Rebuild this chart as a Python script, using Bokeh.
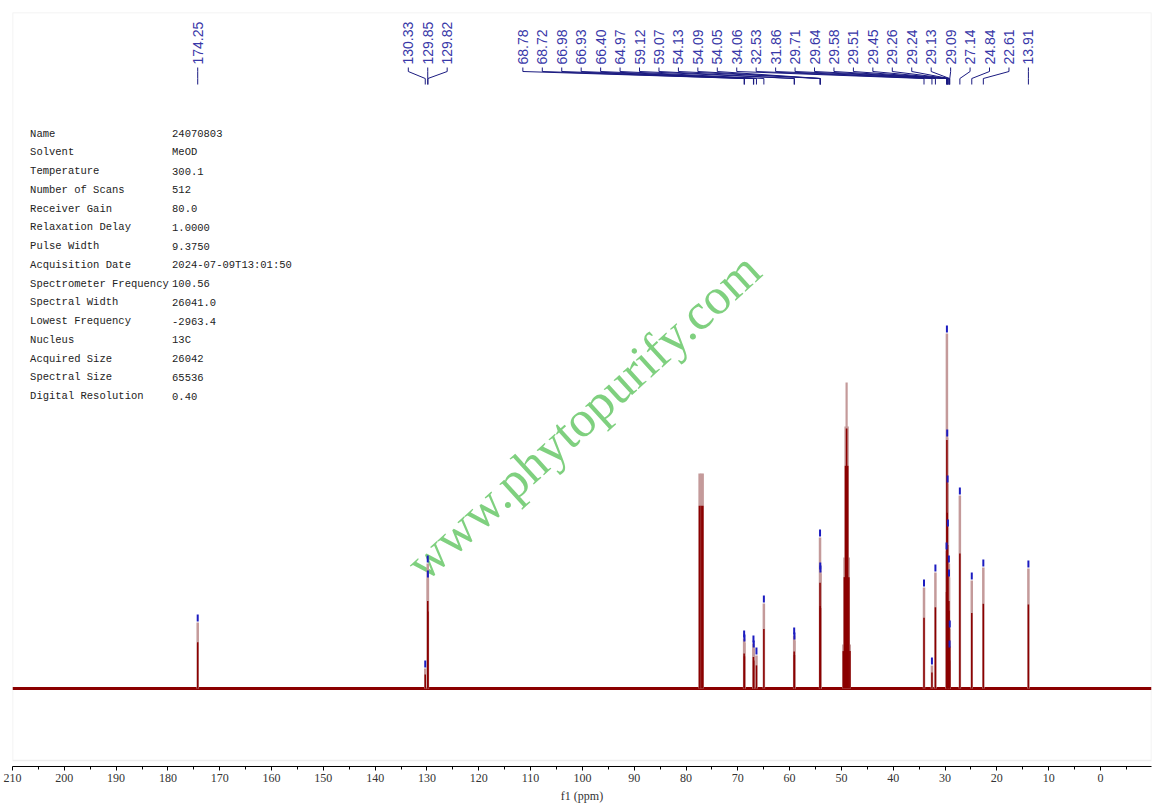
import math
from bokeh.plotting import figure
from bokeh.models import Range1d, FixedTicker, BoxAnnotation
from bokeh.core.properties import value
from bokeh.embed import file_html
from bokeh.resources import INLINE

# ---------------- data ----------------
# labelled peaks (ppm, intensity)
peak_ppm = [174.25, 130.33, 129.85, 129.82, 68.78, 68.72, 66.98, 66.93, 66.40, 64.97,
            59.12, 59.07, 54.13, 54.09, 54.05, 34.06, 32.53, 31.86, 29.71, 29.64,
            29.58, 29.51, 29.45, 29.26, 29.24, 29.13, 29.09, 27.14, 24.84, 22.61, 13.91]
peak_int = [66, 20, 125, 110, 50, 46, 45, 40, 33, 85,
            53, 48, 151, 118, 115, 101, 23, 116, 138, 355,
            251, 205, 161, 125, 111, 40, 60, 193, 108, 121, 120]
# solvent peaks (CDCl3 triplet, CD3OD septet) - not labelled
solv_ppm = [77.40, 77.08, 76.76, 49.64, 49.43, 49.21, 49.00, 48.79, 48.57, 48.36]
solv_int = [215, 215, 215, 44, 131, 262, 306, 262, 131, 44]

# label groups (indices into peak_ppm)
label_groups = [[0], [1, 2, 3], list(range(4, 31))]

major_ticks = [210, 200, 190, 180, 170, 160, 150, 140, 130, 120, 110, 100,
               90, 80, 70, 60, 50, 40, 30, 20, 10, 0]
minor_ticks = [205, 195, 185, 175, 165, 155, 145, 135, 125, 115, 105, 95,
               85, 75, 65, 55, 45, 35, 25, 15, 5, -5]

param_names = ["Name", "Solvent", "Temperature", "Number of Scans", "Receiver Gain",
               "Relaxation Delay", "Pulse Width", "Acquisition Date",
               "Spectrometer Frequency", "Spectral Width", "Lowest Frequency",
               "Nucleus", "Acquired Size", "Spectral Size", "Digital Resolution"]
param_values = ["24070803", "MeOD", "300.1", "512", "80.0", "1.0000", "9.3750",
                "2024-07-09T13:01:50", "100.56", "26041.0", "-2963.4", "13C",
                "26042", "65536", "0.40"]

watermark = "www.phytopurify.com"

# ---------------- figure ----------------
X0, X1 = 210.0, -9.85
Y0, Y1 = -78, 676
PX_PER_PPM = 5.185

p = figure(width=1159, height=808, output_backend="svg", toolbar_location=None,
           x_range=Range1d(X0, X1), y_range=Range1d(Y0, Y1),
           y_axis_location=None, min_border_left=12, min_border_right=8,
           min_border_top=12, min_border_bottom=42)
p.outline_line_color = None
p.grid.visible = False
p.background_fill_color = "white"
p.border_fill_color = "white"

# gray spectrum box
p.add_layout(BoxAnnotation(bottom=-72, fill_alpha=0, line_color="#c8c8c8",
                           line_width=1.5, level="underlay"))

# watermark
p.text(x=[132.5], y=[118], text=[watermark], angle=math.radians(42.3),
       text_font=value("Liberation Serif"), text_font_size="51px",
       text_color="#7fd07f", text_align="left", text_baseline="alphabetic")

# baseline
p.line(x=[X0, X1], y=[0, 0], line_color="#8b0000", line_width=3)

# solvent peaks
p.segment(x0=solv_ppm, y0=[0] * len(solv_ppm), x1=solv_ppm, y1=solv_int,
          line_color="#c49a9a", line_width=2.2)
p.segment(x0=solv_ppm, y0=[0] * len(solv_ppm), x1=solv_ppm,
          y1=[h * 0.85 for h in solv_int], line_color="#8b0000", line_width=1.6)

# labelled peaks
p.segment(x0=peak_ppm, y0=[0] * len(peak_ppm), x1=peak_ppm, y1=peak_int,
          line_color="#c49a9a", line_width=2.5)
p.segment(x0=peak_ppm, y0=[0] * len(peak_ppm), x1=peak_ppm,
          y1=[h * 0.7 for h in peak_int], line_color="#8b0000", line_width=1.5)

# peak pick markers
p.segment(x0=peak_ppm, y0=[h + 1 for h in peak_int], x1=peak_ppm,
          y1=[h + 8 for h in peak_int], line_color="#1c1cc0", line_width=2)

# peak labels with leader lines
spacing = 19.46 / PX_PER_PPM
lab_x, lab_t, xs, ys = [], [], [], []
for g in label_groups:
    n = len(g)
    if n == 1:
        pos = [peak_ppm[g[0]]]
    elif n == 3:
        c = peak_ppm[g[1]]
        pos = [c + spacing, c, c - spacing]
    else:
        pos = [peak_ppm[g[-1]] + (n - 1 - k) * spacing for k in range(n)]
    for k, i in enumerate(g):
        lab_x.append(pos[k])
        lab_t.append("%.2f" % peak_ppm[i])
        xs.append([pos[k], pos[k], peak_ppm[i], peak_ppm[i]])
        ys.append([621, 617, 610, 604])

p.multi_line(xs=xs, ys=ys, line_color="#1a1a80", line_width=1)
p.text(x=lab_x, y=[624] * len(lab_x), text=lab_t, angle=math.pi / 2,
       text_font=value("Liberation Sans"), text_font_size="14px",
       text_color="#3838a8", text_align="left", text_baseline="middle")

# parameter table
row_y = [555 - i * 18.75 for i in range(len(param_names))]
p.text(x=[206.6] * len(param_names), y=row_y, text=param_names,
       text_font=value("Liberation Mono"), text_font_size="10.5px",
       text_color="#222222", text_align="left", text_baseline="middle")
p.text(x=[179.2] * len(param_values), y=row_y, text=param_values,
       text_font=value("Liberation Mono"), text_font_size="10.5px",
       text_color="#222222", text_align="left", text_baseline="middle")

# x axis
ax = p.xaxis[0]
ax.ticker = FixedTicker(ticks=major_ticks, minor_ticks=minor_ticks)
ax.axis_label = "f1 (ppm)"
ax.axis_line_color = "black"
ax.axis_line_width = 1
ax.major_tick_in = 0
ax.major_tick_out = 4
ax.minor_tick_in = 0
ax.minor_tick_out = 3
ax.major_tick_line_color = "black"
ax.minor_tick_line_color = "black"
ax.major_label_standoff = 3
ax.major_label_text_font = "Liberation Serif"
ax.major_label_text_font_size = "12px"
ax.major_label_text_color = "#333333"
ax.axis_label_standoff = 4
ax.axis_label_text_font = "Liberation Serif"
ax.axis_label_text_font_size = "12px"
ax.axis_label_text_font_style = "normal"
ax.axis_label_text_color = "#333333"

open("out.html", "w").write(file_html(p, INLINE))
